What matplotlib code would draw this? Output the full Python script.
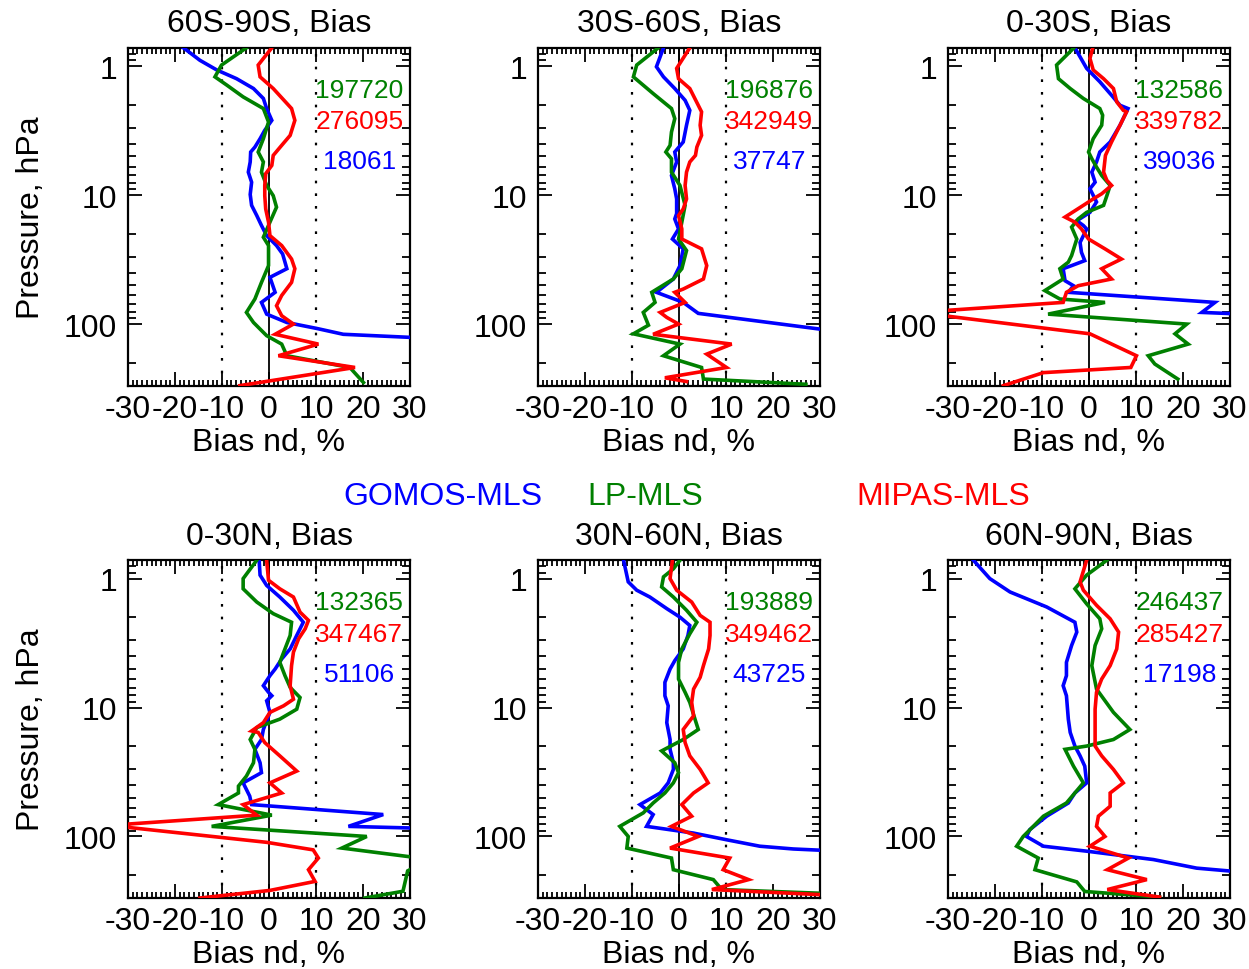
import matplotlib
matplotlib.use("Agg")
import matplotlib.pyplot as plt
from matplotlib.ticker import FixedLocator, FixedFormatter, MultipleLocator, LogLocator, NullFormatter

plt.rcParams['font.family'] = ['Liberation Sans', 'DejaVu Sans']

# ---------------- data ----------------
titles = ["60S-90S, Bias", "30S-60S, Bias", "0-30S, Bias",
          "0-30N, Bias", "30N-60N, Bias", "60N-90N, Bias"]
series_names = ["GOMOS-MLS", "LP-MLS", "MIPAS-MLS"]
counts_gomos = ["18061", "37747", "39036", "51106", "43725", "17198"]
counts_lp = ["197720", "196876", "132586", "132365", "193889", "246437"]
counts_mipas = ["276095", "342949", "339782", "347467", "349462", "285427"]

# 60S-90S
G1_p = [0.72, 0.90, 1.07, 1.25, 1.49, 1.78, 2.13, 2.63, 3.14, 3.65, 4.24, 4.63, 5.53, 6.63, 7.94, 9.88, 12.0, 14.4, 17.2, 20.6, 24.6, 28.6, 37.2, 43.4, 56.7, 67.9, 83.7, 97.2, 108, 120, 127]
G1_b = [-18.2, -14.7, -11.1, -6.9, -3.3, -1.2, -0.5, 0.6, -0.9, -1.9, -3.0, -3.9, -4.0, -4.4, -3.7, -4.0, -3.7, -2.6, -1.6, -0.5, 1.6, 2.9, 3.8, 0.2, 1.3, -1.6, -0.5, 3.8, 10.1, 15.8, 30.5]
L1_p = [0.72, 0.98, 1.21, 1.40, 1.73, 2.13, 2.71, 3.65, 4.63, 5.53, 6.63, 8.41, 10.1, 12.4, 16.2, 21.2, 24.6, 35.2, 47.5, 63.9, 81.2, 97.2, 123, 143, 176, 217, 284]
L1_b = [-4.8, -10.1, -11.5, -9.0, -5.5, -1.2, -0.1, -1.2, -2.3, -1.2, -1.6, -0.5, 0.9, 1.6, 0.2, -1.2, -0.1, -0.1, -1.6, -3.0, -4.8, -3.3, -0.5, 2.7, 3.8, 17.2, 20.1]
M1_p = [0.72, 0.98, 1.21, 1.49, 2.13, 2.63, 3.44, 4.11, 4.92, 5.88, 6.82, 8.41, 10.1, 12.8, 16.2, 20.6, 24.6, 31.3, 37.2, 47.5, 60.0, 72.1, 86.1, 100, 120, 143, 176, 217, 300]
M1_b = [0.6, -2.3, -1.9, 0.9, 4.8, 5.5, 4.5, 2.7, 0.9, 0.6, -0.7, -0.9, -0.9, -0.7, -0.1, 0.2, 2.7, 4.8, 5.5, 4.8, 2.7, 1.6, 2.7, 5.2, 1.3, 10.5, 2.0, 18.3, -6.2]

# 30S-60S
G2_p = [0.72, 1.01, 1.21, 1.49, 1.84, 2.20, 2.87, 3.87, 4.63, 5.53, 7.04, 8.93, 10.7, 13.9, 15.3, 18.3, 21.9, 26.1, 35.2, 44.7, 56.7, 67.9, 82.6, 110]
G2_b = [-3.3, -4.8, -3.3, -0.9, 1.3, 2.3, 1.6, 0.9, -0.9, -0.5, -1.6, -0.9, -0.5, -0.5, -0.9, -0.1, -1.4, 0.9, 0.2, -1.2, -4.8, 0.9, 4.1, 30.5]
L2_p = [0.72, 0.98, 1.21, 1.63, 2.13, 2.55, 3.24, 4.11, 4.63, 5.22, 6.63, 8.41, 12.0, 16.2, 21.9, 26.9, 37.2, 44.7, 56.7, 67.9, 81.2, 102, 119, 143, 176, 217, 267, 293]
L2_b = [-4.4, -9.0, -9.7, -5.5, -1.6, -0.9, -1.6, -1.9, -2.8, -1.6, -1.6, 0.2, 1.3, 0.6, -0.1, 1.6, 0.6, -1.2, -5.8, -5.1, -7.6, -6.5, -9.7, 0.2, -3.3, 4.8, 5.2, 27.0]
M2_p = [0.72, 1.04, 1.25, 1.49, 2.01, 2.26, 2.87, 3.44, 4.24, 4.92, 5.53, 6.63, 8.41, 10.7, 12.8, 14.4, 18.3, 21.9, 26.1, 35.2, 44.7, 53.5, 56.7, 67.9, 81.2, 88.8, 100, 120, 143, 171, 217, 261, 279]
M2_b = [2.3, -0.5, -0.1, 2.3, 4.1, 4.8, 4.5, 4.8, 3.8, 3.5, 2.3, 1.6, 1.3, 1.6, 0.9, -0.1, 0.6, 0.6, 4.8, 5.9, 5.2, 0.9, -0.9, 1.3, -4.0, -2.6, -0.1, -5.5, 11.2, 5.9, 10.1, -3.0, 1.6]

# 0-30S
G3_p = [0.72, 1.04, 1.32, 1.68, 2.01, 2.13, 2.87, 3.87, 4.63, 5.53, 6.63, 7.94, 8.93, 11.3, 13.6, 15.8, 17.2, 18.3, 23.3, 27.8, 32.2, 35.2, 37.2, 46.1, 50.4, 56.7, 67.9, 81.2, 83]
G3_b = [-3.0, -0.5, 2.3, 4.8, 6.6, 8.3, 6.6, 4.5, 2.3, 1.6, 0.6, 1.3, 0.2, 1.6, 0.2, -2.6, -1.2, -0.5, -1.9, -1.6, -0.9, -3.7, -5.5, -5.1, -3.3, -4.4, 26.8, 24.0, 30.5]
L3_p = [0.72, 0.98, 1.25, 1.49, 1.78, 2.13, 2.40, 2.87, 3.65, 4.63, 5.22, 6.06, 7.04, 8.41, 10.1, 12.0, 13.6, 15.3, 17.7, 21.9, 29.4, 33.1, 37.2, 44.7, 55.0, 63.9, 67.9, 83.7, 100, 119, 143, 176, 204, 267]
L3_b = [-3.2, -6.9, -6.5, -4.0, -1.2, 2.3, 2.9, 2.7, 0.9, -0.1, 0.6, 1.6, 2.7, 4.5, 3.8, 3.1, -0.5, -2.3, -3.7, -2.6, -3.7, -4.4, -6.2, -5.5, -9.4, -6.2, 3.4, -8.7, 20.8, 18.3, 21.1, 12.6, 14.0, 18.9]
M3_p = [0.72, 0.87, 1.07, 1.25, 1.49, 1.89, 2.20, 2.26, 2.87, 3.87, 4.92, 6.63, 7.68, 8.41, 9.76, 10.7, 12.0, 14.8, 16.2, 18.3, 21.9, 26.1, 31.3, 37.2, 44.7, 50.4, 56.7, 67.9, 80, 86, 119, 176, 217, 238, 300]
M3_b = [0.8, 0.2, 0.9, 3.1, 5.2, 5.9, 7.3, 8.0, 6.6, 4.8, 3.5, 3.1, 3.8, 4.8, 2.7, 0.9, -1.2, -5.1, -3.0, -1.6, -0.1, 3.4, 6.9, 2.7, 4.8, -2.3, -4.8, -5.5, -34.0, -31.0, 0.2, 10.1, 8.9, -9.7, -18.2]

# 0-30N
G4_p = [0.72, 0.94, 1.13, 1.39, 1.76, 2.18, 2.76, 3.51, 4.20, 5.03, 5.66, 6.77, 7.62, 8.10, 8.87, 10.9, 14.8, 17.7, 21.1, 26.8, 32.0, 38.4, 48.7, 56.6, 67.6, 83.5, 86]
G4_b = [-2.1, -1.9, -0.5, 2.3, 5.2, 7.3, 5.9, 4.5, 2.7, 1.3, 0.2, -1.2, -0.1, 0.6, -0.5, 0.2, -1.2, -1.6, -3.0, -1.9, -1.6, -5.5, -4.1, -3.7, 24.3, 16.9, 30.5]
L4_p = [0.72, 1.0, 1.20, 1.52, 1.87, 2.18, 2.76, 3.51, 4.46, 5.66, 6.98, 8.36, 10.3, 12.3, 14.3, 17.7, 21.1, 26.8, 34.0, 40.7, 46.0, 56.6, 68.3, 83.5, 100, 123, 150, 185, 266, 300]
L4_b = [-2.6, -5.5, -5.5, -2.6, 0.9, 4.8, 4.5, 3.4, 2.3, 3.4, 4.5, 6.6, 5.9, 2.3, -2.6, -4.0, -3.0, -3.3, -4.8, -6.5, -6.5, -10.8, 0.6, -12.2, 20.8, 15.5, 34.0, 29.5, 28.5, 20.4]
M4_p = [0.72, 1.03, 1.20, 1.39, 1.82, 2.11, 2.45, 2.93, 3.72, 4.73, 6.77, 8.62, 9.70, 10.9, 13.1, 15.2, 15.6, 18.7, 23.7, 31.1, 38.4, 46.0, 56.6, 68.3, 82, 111, 127, 147, 181, 223, 262, 300]
M4_b = [-0.5, -0.1, 2.3, 5.2, 6.6, 8.4, 7.7, 6.3, 5.2, 4.8, 4.5, 5.2, 3.1, 0.2, -1.2, -3.7, -2.3, -0.9, 2.3, 5.9, 0.2, 2.7, -5.5, -2.6, -34.0, -0.5, 9.4, 10.5, 8.4, 9.8, 0.2, -14.7]

# 30N-60N
G5_p = [0.72, 1.06, 1.23, 1.39, 1.71, 1.99, 2.31, 2.76, 3.51, 4.33, 5.03, 6.38, 8.10, 9.70, 13.1, 17.7, 21.1, 26.8, 30.2, 38.4, 46.0, 56.6, 67.6, 83.5, 94.0, 106, 119, 125, 128]
G5_b = [-11.8, -10.8, -9.0, -6.2, -2.6, 0.2, 2.3, 1.9, 0.9, -0.9, -1.9, -3.0, -3.0, -2.3, -2.6, -1.9, -1.9, -1.2, -1.2, -2.3, -4.0, -8.3, -5.5, -6.9, 3.0, 10.1, 17.2, 24.3, 30.5]
L5_p = [0.72, 0.84, 0.97, 1.16, 1.39, 1.76, 2.18, 2.68, 3.51, 4.46, 6.01, 7.62, 9.13, 12.3, 14.8, 17.7, 21.7, 26.8, 32.0, 38.4, 46.0, 55.0, 65.6, 83.5, 100, 123, 147, 181, 216, 258, 276]
L5_b = [0.2, -1.2, -3.3, -3.7, -1.2, 1.6, 3.8, 2.3, 0.6, -0.1, -0.1, 1.3, 2.3, 3.4, 4.1, 0.9, -3.7, -0.9, -0.1, -1.2, -3.0, -5.5, -7.6, -12.6, -10.8, -11.1, -1.6, -1.2, 7.3, 9.1, 30.5]
M5_p = [0.72, 1.0, 1.23, 1.52, 1.93, 2.18, 2.76, 3.51, 4.73, 5.83, 7.19, 9.13, 11.6, 14.8, 18.7, 23.7, 30.2, 38.4, 46.0, 56.6, 69.6, 83.5, 100, 123, 147, 181, 216, 258, 283]
M5_b = [-1.4, -1.9, -0.5, 2.7, 4.5, 6.6, 6.6, 6.3, 5.2, 4.5, 3.1, 2.7, 3.1, 0.9, 1.3, 2.3, 4.5, 6.2, 3.1, 0.6, 2.7, -1.6, 4.1, -1.9, 10.8, 9.4, 14.8, 7.0, 30.5]

# 60N-90N
G6_p = [0.72, 1.0, 1.27, 1.66, 2.18, 2.60, 3.30, 4.46, 5.66, 6.77, 8.10, 12.3, 15.6, 19.9, 23.7, 28.5, 38.4, 46.0, 55.0, 69.6, 88.5, 100, 119, 130, 151, 176, 186]
G6_b = [-24.6, -21.1, -16.8, -9.0, -3.0, -2.6, -3.7, -4.8, -4.8, -5.5, -4.8, -4.4, -4.0, -3.0, -1.9, -0.9, -0.5, -3.0, -4.4, -9.0, -12.6, -13.3, -9.7, -0.5, 13.7, 22.9, 30.5]
L6_p = [0.72, 0.94, 1.20, 1.57, 2.05, 2.45, 3.30, 4.73, 7.19, 10.9, 14.8, 17.7, 19.9, 21.1, 28.5, 38.4, 55.0, 69.6, 100, 119, 147, 181, 225, 267, 295]
L6_b = [3.8, -0.5, -3.0, -0.5, 2.3, 2.7, 1.3, 0.6, 1.6, 5.2, 8.7, 5.2, -0.5, -5.1, -3.3, -1.2, -4.8, -9.7, -14.0, -15.4, -10.8, -11.5, -2.6, -0.9, 15.0]
M6_p = [0.72, 1.06, 1.23, 1.61, 2.05, 2.60, 3.51, 4.73, 6.01, 7.62, 10.3, 13.1, 19.9, 23.7, 30.2, 38.4, 46.0, 58.3, 69.6, 83.5, 100, 119, 147, 181, 216, 258, 295]
M6_b = [-0.5, -1.9, -1.2, 1.6, 4.5, 6.3, 5.9, 4.5, 2.7, 1.6, 1.3, 1.3, 1.3, 2.7, 5.2, 7.3, 4.5, 4.5, 2.0, 1.6, 3.4, 0.2, 8.4, 3.9, 12.3, 3.9, 15.0]

x_ticks = [-30, -20, -10, 0, 10, 20, 30]
x_ticklabels = ["-30", "-20", "-10", "0", "10", "20", "30"]
y_ticks = [1, 10, 100]
y_ticklabels = ["1", "10", "100"]

# ---------------- styling ----------------
C_BLUE = "#0000ff"
C_GREEN = "#008000"
C_RED = "#ff0000"
colors = [C_BLUE, C_GREEN, C_RED]

panels = [
    (G1_p, G1_b, L1_p, L1_b, M1_p, M1_b),
    (G2_p, G2_b, L2_p, L2_b, M2_p, M2_b),
    (G3_p, G3_b, L3_p, L3_b, M3_p, M3_b),
    (G4_p, G4_b, L4_p, L4_b, M4_p, M4_b),
    (G5_p, G5_b, L5_p, L5_b, M5_p, M5_b),
    (G6_p, G6_b, L6_p, L6_b, M6_p, M6_b),
]

W, H = 1249, 970
fig = plt.figure(figsize=(W / 100, H / 100), dpi=100)

lefts_px = [128, 538, 948]
tops_px = [48.8, 561.2]
ax_w, ax_h = 282, 337.8
FS = 23
FS_NUM = 19

for i, (gp, gb, lp, lb, mp, mb) in enumerate(panels):
    r, c = divmod(i, 3)
    l = lefts_px[c] / W
    b = 1 - (tops_px[r] + ax_h) / H
    ax = fig.add_axes([l, b, ax_w / W, ax_h / H])
    ax.set_yscale("log")
    ax.set_xlim(-30, 30)
    ax.set_ylim(300, 0.72)

    ax.axvline(0, color="black", lw=1.3, zorder=1)
    for xv in (-10, 10):
        ax.axvline(xv, color="black", lw=1.6, linestyle=(0, (1.2, 4.5)), zorder=1)

    for (pp, bb, col) in ((gp, gb, C_BLUE), (lp, lb, C_GREEN), (mp, mb, C_RED)):
        ax.plot(bb, pp, color=col, lw=2.6, solid_joinstyle="miter", zorder=3)

    ax.xaxis.set_major_locator(FixedLocator(x_ticks))
    ax.xaxis.set_major_formatter(FixedFormatter(x_ticklabels))
    ax.xaxis.set_minor_locator(MultipleLocator(1))
    ax.yaxis.set_major_locator(FixedLocator(y_ticks))
    ax.yaxis.set_major_formatter(FixedFormatter(y_ticklabels))
    ax.yaxis.set_minor_locator(LogLocator(base=10, subs=range(2, 10)))
    ax.yaxis.set_minor_formatter(NullFormatter())

    ax.tick_params(which="both", direction="in", top=True, right=True, labelsize=FS, width=1.3)
    ax.tick_params(axis="x", which="major", length=10, pad=6)
    ax.tick_params(axis="x", which="minor", length=4)
    ax.tick_params(axis="y", which="major", length=10, pad=8)
    ax.tick_params(axis="y", which="minor", length=6)
    for s in ax.spines.values():
        s.set_linewidth(1.6)

    ax.set_title(titles[i], fontsize=FS, pad=12)
    ax.set_xlabel("Bias nd, %", fontsize=FS, labelpad=2)
    if c == 0:
        ax.set_ylabel("Pressure, hPa", fontsize=FS, labelpad=13)

    ax.text(0.82, 0.876, counts_lp[i], color=C_GREEN, fontsize=FS_NUM,
            transform=ax.transAxes, ha="center", va="center")
    ax.text(0.82, 0.782, counts_mipas[i], color=C_RED, fontsize=FS_NUM,
            transform=ax.transAxes, ha="center", va="center")
    ax.text(0.82, 0.664, counts_gomos[i], color=C_BLUE, fontsize=FS_NUM,
            transform=ax.transAxes, ha="center", va="center")

legend_x = [443, 645, 943]
for name, col, xp in zip(series_names, colors, legend_x):
    fig.text(xp / W, 1 - 497 / H, name, color=col, fontsize=FS, ha="center", va="center")

fig.savefig("out.png", dpi=100)
